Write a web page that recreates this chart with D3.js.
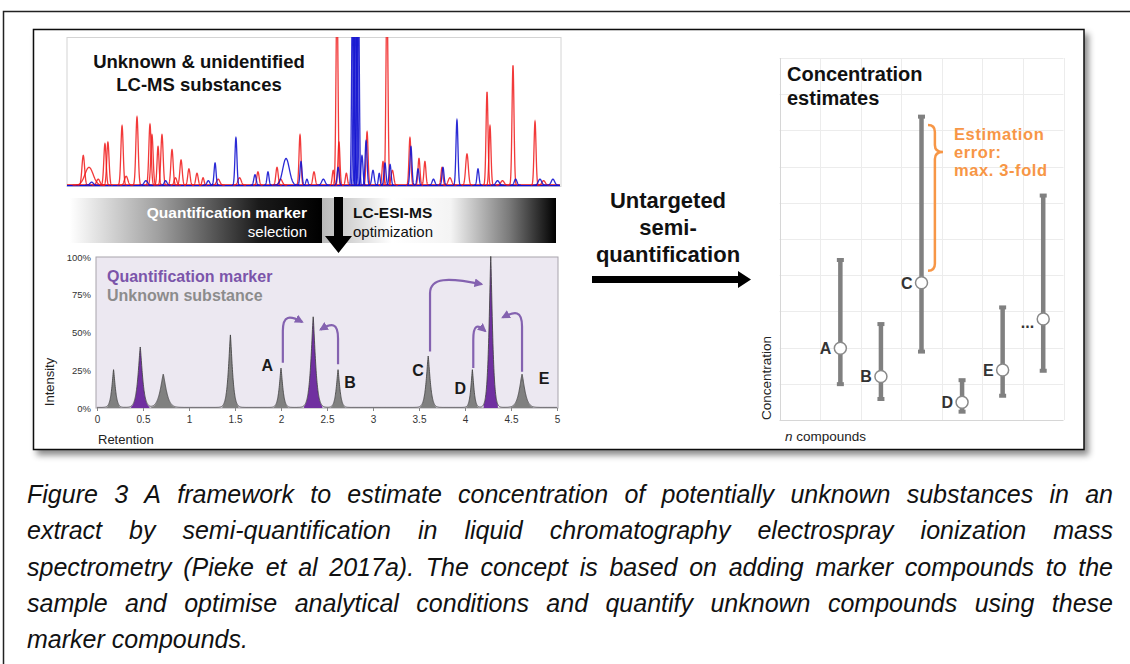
<!DOCTYPE html>
<html><head><meta charset="utf-8">
<script src="https://cdn.jsdelivr.net/npm/d3@7"></script>
<style>
body{margin:0;background:#fff;}
svg{display:block;font-family:"Liberation Sans",Arial,sans-serif;}
</style>
</head><body>
<svg id="c" width="1130" height="664"></svg>
<script>
// ---------------- DATA ----------------
// Top panel: raw LC-MS chromatogram peaks [retention (min), intensity (% of panel), sigma (min)]
const rawRedPeaks = [[0.99,20,0.08],[1.34,12,0.25],[2.31,28,0.07],[2.49,29,0.07],[3.35,40,0.07],[4.26,46,0.07],[5.05,41,0.07],[5.17,34,0.07],[5.54,26,0.06],[5.78,34,0.07],[6.39,24,0.07],[6.94,17,0.07],[7.42,11,0.07],[7.91,8,0.07],[8.28,5,0.06],[11.62,9,0.07],[12.78,12,0.07],[14.18,34,0.06],[15.03,9,0.07],[16.43,130,0.06],[16.55,29,0.06],[18.26,36,0.06],[19.23,16,0.06],[19.47,130,0.06],[20.87,32,0.06],[21.42,18,0.06],[21.78,16,0.06],[22.82,12,0.06],[24.34,21,0.08],[25.56,63,0.06],[25.74,40,0.06],[27.14,81,0.06],[28.48,43,0.06],
  [1.9,4,0.1],[3.6,6,0.1],[6.6,5,0.08],[9.2,4,0.1],[10.5,5,0.1],[13.0,4,0.1],[16.2,10,0.06],[17.0,8,0.06],[19.8,10,0.08],[23.3,5,0.1],[26.5,3,0.1],[29.0,3,0.1]];
const rawBluePeaks = [[9.01,15,0.06],[10.28,32,0.06],[11.44,7,0.07],[12.23,9,0.06],[13.33,18,0.2],[14.24,16,0.06],[14.6,4,0.06],[17.37,130,0.05],[17.46,130,0.05],[17.56,130,0.05],[17.65,130,0.05],[17.74,130,0.05],[17.95,20,0.06],[18.2,30,0.06],[18.62,10,0.07],[19.35,15,0.06],[19.66,14,0.06],[20.93,26,0.06],[21.36,11,0.06],[22.88,12,0.06],[23.73,44,0.06],[25.01,11,0.06],[28.78,4,0.1],[29.57,4,0.1],
  [1.5,2,0.1],[4.8,3,0.1],[6.0,3,0.08],[8.6,3,0.08],[15.6,4,0.1],[16.5,12,0.06],[19.0,8,0.05],[22.3,4,0.08],[26.2,3,0.1],[27.3,4,0.08]];

// Lower panel: idealised chromatogram
const retentionTicks = [0,0.5,1,1.5,2,2.5,3,3.5,4,4.5,5];
const intensityTicks = [0,0.25,0.5,0.75,1];
const peakRT     = [0.18,0.47,0.72,1.45,2.00,2.35,2.62,3.60,4.08,4.28,4.62];
const peakHeight = [0.25,0.40,0.22,0.48,0.26,0.60,0.25,0.34,0.25,1.00,0.22];
const peakHalfBase = [0.07,0.09,0.12,0.08,0.07,0.09,0.07,0.08,0.06,0.07,0.11];
const peakType   = ["u","m","u","u","u","m","u","u","u","m","u"];
const unknownLabels = ["A","B","C","D","E"];
const labelRT = [1.85,2.75,3.49,3.95,4.86];
const labelI  = [0.28,0.17,0.25,0.13,0.20];
const arrowFrom = [[2.02,0.30],[2.62,0.29],[3.62,0.375],[4.09,0.265],[4.62,0.24]];
const arrowTo   = [[2.23,0.57],[2.43,0.52],[4.18,0.82],[4.22,0.51],[4.41,0.60]];

// Right panel: concentration estimates
const compounds = ["A","B","C","D","E","..."];
const compoundPos = [1.5,2.5,3.5,4.5,5.5,6.5];
const estimate = [1.98,1.20,3.79,0.49,1.38,2.79];
const upperEst = [4.42,2.65,8.38,1.10,3.11,6.20];
const lowerEst = [0.99,0.58,1.89,0.23,0.67,1.36];
const xGridTicks = [0,1,2,3,4,5,6,7];
const yGridTicks = [0,1,2,3,4,5,6,7,8,9,10];

const captionLines = [
 "Figure 3 A framework to estimate concentration of potentially unknown substances in an",
 "extract by semi-quantification in liquid chromatography electrospray ionization mass",
 "spectrometry (Pieke et al 2017a). The concept is based on adding marker compounds to the",
 "sample and optimise analytical conditions and quantify unknown compounds using these",
 "marker compounds."
];

// ---------------- DRAW ----------------
const svg = d3.select("#c");
const defs = svg.append("defs");

const PURPLE_FILL = "#7030a0", PURPLE_LINE = "#8462b0", GRAY_FILL = "#808080";

// drop shadow
const f = defs.append("filter").attr("id","sh").attr("x","-5%").attr("y","-5%").attr("width","110%").attr("height","115%");
f.append("feDropShadow").attr("dx",4).attr("dy",5).attr("stdDeviation",3).attr("flood-color","#000").attr("flood-opacity",0.45);

// outer frame
svg.append("path").attr("d","M3.5,664 L3.5,11.5 L1130,11.5").attr("fill","none").attr("stroke","#222").attr("stroke-width",1.5);

// inner figure box
svg.append("rect").attr("x",33.5).attr("y",29.5).attr("width",1050.5).attr("height",420)
  .attr("fill","#fff").attr("stroke","#111").attr("stroke-width",1.5).attr("filter","url(#sh)");

// ===== Top raw chromatogram =====
const tx = d3.scaleLinear().domain([0,30]).range([67,560]);
const ty = d3.scaleLinear().domain([0,100]).range([186,38]);
defs.append("clipPath").attr("id","clipTop").append("rect").attr("x",67).attr("y",37).attr("width",494).attr("height",150);
svg.append("rect").attr("x",67).attr("y",37.5).attr("width",494).attr("height",149)
  .attr("fill","#fff").attr("stroke","#d4d4d4").attr("stroke-width",1);
const gTop = svg.append("g").attr("clip-path","url(#clipTop)");
const line = d3.line().x(d=>tx(d[0])).y(d=>ty(d[1]));
function peakPts(p){
  const [rt,h,s]=p, pts=[];
  for(let k=-40;k<=40;k++){const x=rt+k*s*0.1; pts.push([x, 0.6+h*Math.exp(-0.5*Math.pow((x-rt)/s,2))]);}
  return pts;
}
gTop.append("path").attr("d",line([[0,0.6],[30,0.6]])).attr("stroke","#e01010").attr("stroke-width",1.5).attr("fill","none");
gTop.append("path").attr("d",line([[0,0.3],[30,0.3]])).attr("stroke","#1010d8").attr("stroke-width",1.2).attr("fill","none");
gTop.selectAll("path.red").data(rawRedPeaks).join("path").attr("class","red")
  .attr("d",d=>line(peakPts(d))).attr("fill","none").attr("stroke","#f01818").attr("stroke-opacity",0.85).attr("stroke-width",1.3);
gTop.selectAll("path.blue").data(rawBluePeaks).join("path").attr("class","blue")
  .attr("d",d=>line(peakPts(d))).attr("fill","none").attr("stroke","#1414d0").attr("stroke-opacity",0.9).attr("stroke-width",1.3);
svg.append("text").attr("x",199).attr("y",68).attr("text-anchor","middle").attr("font-weight","bold").attr("font-size",18.5).attr("fill","#111").text("Unknown & unidentified");
svg.append("text").attr("x",199).attr("y",91).attr("text-anchor","middle").attr("font-weight","bold").attr("font-size",18.5).attr("fill","#111").text("LC-MS substances");

// ===== gradient band =====
const g1 = defs.append("linearGradient").attr("id","gl").attr("x1","0").attr("x2","1");
[[0,"#ffffff"],[0.35,"#a0a0a0"],[0.75,"#1a1a1a"],[1,"#000"]].forEach(s=>g1.append("stop").attr("offset",s[0]).attr("stop-color",s[1]));
const g2 = defs.append("linearGradient").attr("id","gr").attr("x1","0").attr("x2","1");
[[0,"#b8b8b8"],[0.3,"#ffffff"],[0.55,"#f4f4f4"],[0.8,"#7a7a7a"],[1,"#000"]].forEach(s=>g2.append("stop").attr("offset",s[0]).attr("stop-color",s[1]));
svg.append("rect").attr("x",70).attr("y",198).attr("width",252).attr("height",45).attr("fill","url(#gl)");
svg.append("rect").attr("x",322).attr("y",198).attr("width",234).attr("height",45).attr("fill","url(#gr)");
svg.append("text").attr("x",307).attr("y",218).attr("text-anchor","end").attr("font-weight","bold").attr("font-size",15.5).attr("fill","#fff").text("Quantification marker");
svg.append("text").attr("x",307).attr("y",237).attr("text-anchor","end").attr("font-size",15).attr("fill","#fff").text("selection");
svg.append("text").attr("x",353).attr("y",218).attr("font-weight","bold").attr("font-size",15.5).attr("fill","#111").text("LC-ESI-MS");
svg.append("text").attr("x",353).attr("y",237).attr("font-size",15).attr("fill","#111").text("optimization");
svg.append("path").attr("d","M334,197 L343,197 L343,236 L352,236 L338.5,253 L325,236 L334,236 Z").attr("fill","#000");

// ===== Lower idealised chromatogram =====
const lx = d3.scaleLinear().domain([0,5]).range([97,557]);
const ly = d3.scaleLinear().domain([0,1]).range([408,257]);
svg.append("rect").attr("x",lx(0)-1).attr("y",ly(1)).attr("width",lx(5)-lx(0)+2).attr("height",ly(0)-ly(1))
  .attr("fill","#ece8f1").attr("stroke","#a8a4ac").attr("stroke-width",1);
function shape(x,i){const w=peakHalfBase[i]/2.6;return peakHeight[i]*Math.exp(-Math.pow(Math.abs(x-peakRT[i])/w,1.3));}
const area = d3.area().x(d=>lx(d[0])).y0(ly(0)).y1(d=>ly(d[1]));
const gL = svg.append("g");
peakRT.forEach((rt,i)=>{
  const pts=[]; const hb=peakHalfBase[i]*1.1;
  for(let k=0;k<=200;k++){const x=rt-hb+2*hb*k/200; pts.push([x,shape(x,i)]);}
  gL.append("path").attr("d",area(pts)).attr("fill",peakType[i]==="m"?PURPLE_FILL:GRAY_FILL);
});
const total=[];
for(let k=0;k<=2500;k++){const x=5*k/2500; let s=0.004; peakRT.forEach((rt,i)=>{s+=shape(x,i);}); total.push([x,s]);}
gL.append("path").attr("d",d3.line().x(d=>lx(d[0])).y(d=>ly(d[1]))(total)).attr("fill","none").attr("stroke","#3a3a3a").attr("stroke-width",0.8);

// axes
const xAx = svg.append("g").attr("transform",`translate(0,${ly(0)})`)
  .call(d3.axisBottom(lx).tickValues(retentionTicks).tickSize(3).tickFormat(d=>d));
xAx.select(".domain").remove();
xAx.selectAll("line").attr("stroke","#888");
xAx.selectAll("text").attr("font-size",10).attr("fill","#333").attr("dy","0.9em").attr("font-family","Liberation Sans, Arial");
const yAx = svg.append("g").attr("transform",`translate(${lx(0)-3},0)`)
  .call(d3.axisLeft(ly).tickValues(intensityTicks).tickSize(0).tickFormat(d3.format(".0%")));
yAx.select(".domain").remove();
yAx.selectAll("text").attr("font-size",9.5).attr("fill","#333").attr("font-family","Liberation Sans, Arial");
svg.append("text").attr("x",98).attr("y",444).attr("font-size",13).attr("fill","#222").text("Retention");
svg.append("text").attr("transform","translate(54,382) rotate(-90)").attr("text-anchor","middle").attr("font-size",13).attr("fill","#222").text("Intensity");
svg.append("text").attr("x",107).attr("y",282).attr("font-weight","bold").attr("font-size",16).attr("fill","#7b55aa").text("Quantification marker");
svg.append("text").attr("x",107).attr("y",301).attr("font-weight","bold").attr("font-size",16).attr("fill","#8c8c8c").text("Unknown substance");

// labels
svg.selectAll("text.pl").data(unknownLabels).join("text").attr("class","pl")
  .attr("x",(d,i)=>lx(labelRT[i])).attr("y",(d,i)=>ly(labelI[i])).attr("dy","0.36em")
  .attr("text-anchor","middle").attr("font-weight","bold").attr("font-size",16).attr("fill","#1a1a1a").text(d=>d);

// arrows
defs.append("marker").attr("id","ah").attr("viewBox","0 0 10 10").attr("refX",8).attr("refY",5)
  .attr("markerWidth",4).attr("markerHeight",4).attr("orient","auto").attr("markerUnits","strokeWidth")
  .append("path").attr("d","M0,0 L10,5 L0,10 Z").attr("fill",PURPLE_LINE);
arrowFrom.forEach((a,i)=>{
  const b=arrowTo[i];
  const x0=lx(a[0]), y0=ly(a[1]), xe=lx(b[0]), ye=ly(b[1]);
  const yA=ly(b[1]-0.06), yB=ly(b[1]+0.045);
  const d=`M${x0},${y0} L${x0},${yA} C${x0},${yB} ${x0+0.35*(xe-x0)},${yB} ${xe},${ye}`;
  svg.append("path").attr("d",d).attr("fill","none").attr("stroke",PURPLE_LINE).attr("stroke-width",2.2).attr("marker-end","url(#ah)");
});

// ===== Middle arrow & text =====
[["Untargeted",208],["semi-",235],["quantification",262]].forEach(t=>{
  svg.append("text").attr("x",668).attr("y",t[1]).attr("text-anchor","middle").attr("font-weight","bold").attr("font-size",22).attr("fill","#111").text(t[0]);
});
svg.append("path").attr("d","M592,276 L738,276 L738,271 L751,279.5 L738,288 L738,283 L592,283 Z").attr("fill","#000");

// ===== Right: concentration estimates =====
const rx = d3.scaleLinear().domain([0,7]).range([779.5,1063.5]);
const ry = d3.scaleLinear().domain([0,10]).range([420,58]);
const gR = svg.append("g");
gR.selectAll("line.hg").data(yGridTicks).join("line").attr("class","hg")
  .attr("x1",rx(0)).attr("x2",rx(7)).attr("y1",d=>Math.round(ry(d))+0.5).attr("y2",d=>Math.round(ry(d))+0.5)
  .attr("stroke",d=>d===0?"#d6d6d6":"#ececec").attr("stroke-width",1);
gR.selectAll("line.vg").data(xGridTicks).join("line").attr("class","vg")
  .attr("y1",ry(0)).attr("y2",ry(10)).attr("x1",d=>Math.round(rx(d))+0.5).attr("x2",d=>Math.round(rx(d))+0.5)
  .attr("stroke",d=>d===0?"#d6d6d6":"#ececec").attr("stroke-width",1);
svg.append("text").attr("x",787).attr("y",81).attr("font-weight","bold").attr("font-size",20).attr("fill","#111").text("Concentration");
svg.append("text").attr("x",787).attr("y",105).attr("font-weight","bold").attr("font-size",20).attr("fill","#111").text("estimates");

// brace
const bx0=rx(3.66), bx1=rx(3.83), bx2=rx(4.03), by0=ry(8.15), by1=ry(7.4), by2=ry(4.12);
svg.append("path").attr("d",`M${bx0},${by0} Q${bx1},${by0} ${bx1},${by0+7} L${bx1},${by1-7} Q${bx1},${by1} ${bx2},${by1} Q${bx1},${by1} ${bx1},${by1+7} L${bx1},${by2-7} Q${bx1},${by2} ${bx0},${by2}`)
  .attr("fill","none").attr("stroke","#f79646").attr("stroke-width",2.5);
[["Estimation",139.5],["error:",157.5],["max. 3-fold",175.5]].forEach(t=>{
  svg.append("text").attr("x",954).attr("y",t[1]).attr("font-weight","bold").attr("font-size",16.5).attr("letter-spacing",0.6).attr("fill","#f79646").text(t[0]);
});

// error bars
const eb = gR.selectAll("g.eb").data(compounds).join("g").attr("class","eb");
eb.append("line").attr("x1",(d,i)=>rx(compoundPos[i])).attr("x2",(d,i)=>rx(compoundPos[i]))
  .attr("y1",(d,i)=>ry(lowerEst[i])).attr("y2",(d,i)=>ry(upperEst[i])).attr("stroke","#808080").attr("stroke-width",4.5);
eb.append("rect").attr("x",(d,i)=>rx(compoundPos[i])-3.5).attr("y",(d,i)=>ry(upperEst[i])-2).attr("width",7).attr("height",4).attr("fill","#808080");
eb.append("rect").attr("x",(d,i)=>rx(compoundPos[i])-3.5).attr("y",(d,i)=>ry(lowerEst[i])-2).attr("width",7).attr("height",4).attr("fill","#808080");
eb.append("circle").attr("cx",(d,i)=>rx(compoundPos[i])).attr("cy",(d,i)=>ry(estimate[i])).attr("r",6)
  .attr("fill","#fff").attr("stroke","#8a8a8a").attr("stroke-width",1.5);
eb.append("text").attr("x",(d,i)=>rx(compoundPos[i])-9).attr("y",(d,i)=>ry(estimate[i])+(d==="..."?3:0)).attr("dy","0.36em")
  .attr("text-anchor","end").attr("font-weight","bold").attr("font-size",16).attr("fill","#333").text(d=>d);

svg.append("text").attr("transform","translate(771,378) rotate(-90)").attr("text-anchor","middle").attr("font-size",13.5).attr("fill","#222").text("Concentration");
const nc = svg.append("text").attr("x",785).attr("y",441).attr("font-size",13.5).attr("fill","#222");
nc.append("tspan").attr("font-style","italic").text("n");
nc.append("tspan").text(" compounds");

// ===== Caption (justified) =====
const capL=27, capR=1113, capY0=503, capDY=36.3;
captionLines.forEach((ln,li)=>{
  const t = svg.append("text").attr("y",capY0+li*capDY).attr("font-size",25).attr("font-style","italic").attr("fill","#111");
  const words = ln.split(" ");
  if(li===captionLines.length-1){ t.attr("x",capL).text(ln); return; }
  const spans = words.map(w=>t.append("tspan").text(w));
  const widths = spans.map(s=>s.node().getComputedTextLength());
  const sum = d3.sum(widths);
  const gap = (capR-capL-sum)/(words.length-1);
  let x=capL;
  spans.forEach((s,i)=>{s.attr("x",x); x+=widths[i]+gap;});
});
</script>
</body></html>
